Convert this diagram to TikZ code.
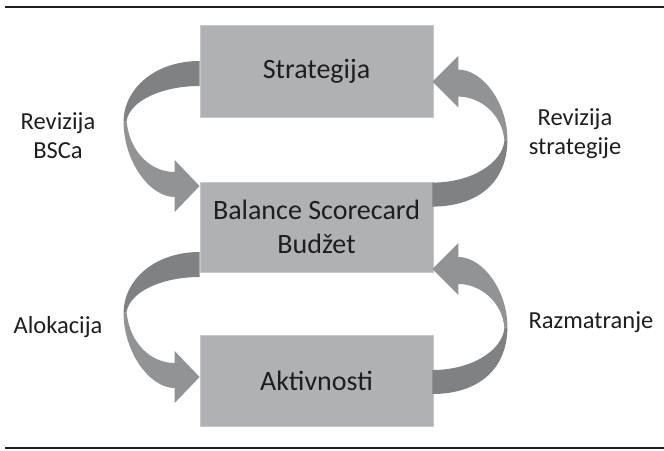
\documentclass[tikz,border=0pt]{standalone}
\usepackage{fontspec}
\setmainfont{Carlito}
\usetikzlibrary{calc}
\definecolor{boxgray}{RGB}{176,177,180}
\definecolor{boxedge}{RGB}{198,199,201}
\definecolor{loopdark}{RGB}{128,129,131}
\definecolor{looplight}{RGB}{146,147,149}
\definecolor{txt}{RGB}{30,30,30}
\begin{document}
\begin{tikzpicture}[x=1pt,y=-1pt,
    stage/.style={fill=boxgray,draw=boxedge,line width=0.8pt,minimum width=233pt,text=txt,align=center,font=\fontsize{28}{34}\selectfont},
    side/.style={text=txt,align=center,font=\fontsize{24.5}{29}\selectfont},
    leftloop/.pic={
      \fill[loopdark] (0,0) .. controls (-45,0) and (-76,28) .. (-76,61) -- (-73,60) .. controls (-70,40) and (-38,25) .. (0,25) -- cycle;
      \fill[looplight] (-76,61) .. controls (-76,100) and (-50,136) .. (-25,136) -- (-25,151) -- (0,125) -- (-25,99) -- (-25,111) .. controls (-48,111) and (-70,92) .. (-73,60) -- cycle;
    },
    rightloop/.pic={
      \fill[loopdark] (0,24) .. controls (45,24) and (75,0) .. (75,-43) -- (72,-42) .. controls (70,-20) and (40,0) .. (0,0) -- cycle;
      \fill[looplight] (75,-43) .. controls (75,-80) and (50,-113) .. (26,-113) -- (26,-127) -- (0,-101) -- (26,-75) -- (26,-86) .. controls (48,-86) and (70,-68) .. (72,-42) -- cycle;
    }]
  \useasboundingbox (0,0) rectangle (664,450);
  \draw[line width=1.3pt,txt] (5,7) -- (664,7);
  \draw[line width=1.3pt,txt] (5,448) -- (664,448);
  % the three stages
  \node[stage,minimum height=92pt] (strat) at (316.5,71) {Strategija};
  \node[stage,minimum height=90pt] (bsc) at (316.5,227) {Balance Scorecard\\Budžet};
  \node[stage,minimum height=91pt] (akt) at (316.5,380.5) {Aktivnosti};
  % loops between them
  \pic at ($(strat.west)+(0,-10)$) {leftloop};
  \pic at ($(bsc.west)+(0,25)$) {leftloop};
  \pic at ($(bsc.north east)+(-1,1)$) {rightloop};
  \pic at ($(akt.east)+(-1,-10.5)$) {rightloop};
  \node[side] (revbsc) at (58,136) {Revizija\\BSCa};
  \node[side] (revstr) at (575,134) {Revizija\\strategije};
  \node[side] (alok) at (58,327) {Alokacija};
  \node[side] (razm) at (591,322) {Razmatranje};
\end{tikzpicture}
\end{document}
